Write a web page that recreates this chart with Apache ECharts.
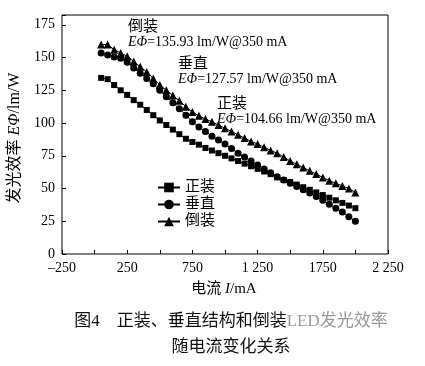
<!DOCTYPE html>
<html><head><meta charset="utf-8">
<script src="https://cdn.jsdelivr.net/npm/echarts@6/dist/echarts.min.js"></script>
<style>html,body{margin:0;padding:0;background:#fff}#c{width:425px;height:366px}</style>
</head><body><div id="c"></div>
<script>
var currents = [50,100,150,200,250,300,350,400,450,500,550,600,650,700,750,800,850,900,950,1000,1050,1100,1150,1200,1250,1300,1350,1400,1450,1500,1550,1600,1650,1700,1750,1800,1850,1900,1950,2000];
var zhengzhuang = [134.5,133.5,129,125,121.5,117.5,114,110,106,102,98.5,95,91.5,88,85.5,83.5,81,79,77,75,73,71,69,67,65,63,61,58.5,56.5,55,53,51,49,47,45,43,41,39,37,35];
var chuizhi = [153.5,152,150.5,149.5,146.5,142,138,134,130,125,120,115.5,111,106,101,97,93.5,90,87,84,80.5,77,74,71,68,65,62,59,56.5,54,51.5,49,46.5,44,41,38,35,32,28.5,25];
var daozhuang = [160,160,156,153.5,151,147,143,139,134,129,125,121,117,112.5,108.5,105.5,103,101,98.5,96,93.5,91,88.5,86,84,81.5,79,77,74,71,68.5,66,63.5,61,58.5,56,54,52,50,47];
var seriesNames = ['正装','垂直','倒装'];
var xTickLabels = {'-250':'\u2013250','250':'250','750':'750','1250':'1 250','1750':'1750','2250':'2 250'};
var yTicks = [0,25,50,75,100,125,150,175];

var FONT = "'Liberation Serif','Noto Sans CJK SC',serif";
function pairs(ys){ return currents.map(function(x,i){ return [x, ys[i]]; }); }
var chart = echarts.init(document.getElementById('c'), null, {renderer:'canvas'});
function mk(name, ys, sym, size){
  return {name:name, type:'line', data:pairs(ys), symbol:sym, symbolSize:size,
    itemStyle:{color:'#000'}, lineStyle:{color:'#000', width:1}, animation:false};
}
var italic = function(sz){ return {i:{fontStyle:'italic', fontFamily:FONT, fontSize:sz, fill:'#000'}}; };
chart.setOption({
  backgroundColor:'#fff',
  animation:false,
  grid:{left:62, right:37, top:15, bottom:112, show:true, borderColor:'#000', borderWidth:1, backgroundColor:'transparent'},
  xAxis:{type:'value', min:-250, max:2250, interval:250,
    axisLine:{show:false, onZero:false}, splitLine:{show:false},
    axisTick:{show:true, inside:true, length:4, lineStyle:{color:'#000', width:1}},
    axisLabel:{color:'#000', fontFamily:FONT, fontSize:14, margin:7,
      formatter:function(v){ var k=String(v); return xTickLabels[k]!==undefined?xTickLabels[k]:''; }}
  },
  yAxis:{type:'value', min:0, max:182.5, interval:25,
    axisLine:{show:false, onZero:false}, splitLine:{show:false},
    axisTick:{show:true, inside:true, length:4, lineStyle:{color:'#000'}},
    axisLabel:{color:'#000', fontFamily:FONT, fontSize:14, margin:7,
      formatter:function(v){ return yTicks.indexOf(v)>=0 ? String(v) : ''; }}
  },
  legend:{orient:'vertical', left:152, top:175, itemWidth:22, itemHeight:12, itemGap:2,
    data:seriesNames, textStyle:{color:'#000', fontFamily:FONT, fontSize:15, lineHeight:14}},
  series:[ mk(seriesNames[0], zhengzhuang, 'rect', 6), mk(seriesNames[1], chuizhi, 'circle', 7), mk(seriesNames[2], daozhuang, 'triangle', 8) ],
  graphic:[
    {type:'text', left:128, top:20, style:{text:'倒装', font:'15px '+FONT, fill:'#000'}},
    {type:'text', left:128, top:35, style:{text:'{i|EΦ}=135.93 lm/W@350 mA', font:'14px '+FONT, fill:'#000', rich:italic(14)}},
    {type:'text', left:178, top:57, style:{text:'垂直', font:'15px '+FONT, fill:'#000'}},
    {type:'text', left:178, top:72, style:{text:'{i|EΦ}=127.57 lm/W@350 mA', font:'14px '+FONT, fill:'#000', rich:italic(14)}},
    {type:'text', left:217, top:97, style:{text:'正装', font:'15px '+FONT, fill:'#000'}},
    {type:'text', left:217, top:112, style:{text:'{i|EΦ}=104.66 lm/W@350 mA', font:'14px '+FONT, fill:'#000', rich:italic(14)}},
    {type:'text', x:15, y:138, rotation:Math.PI/2, style:{text:'发光效率 {i|EΦ}/lm/W', font:'16px '+FONT, fill:'#000', align:'center', verticalAlign:'middle', rich:italic(16)}},
    {type:'text', x:224, y:289, style:{text:'电流 {i|I}/mA', font:'15px '+FONT, fill:'#000', align:'center', verticalAlign:'middle', rich:italic(15)}},
    {type:'text', x:231, y:322, style:{text:'图4　正装、垂直结构和倒装{g|LED发光效率}', font:'17px '+FONT, fill:'#111', align:'center', verticalAlign:'middle', rich:{g:{fontFamily:FONT, fontSize:17, fill:'#999'}}}},
    {type:'text', x:231, y:348, style:{text:'随电流变化关系', font:'17px '+FONT, fill:'#111', align:'center', verticalAlign:'middle'}}
  ]
});
</script></body></html>
